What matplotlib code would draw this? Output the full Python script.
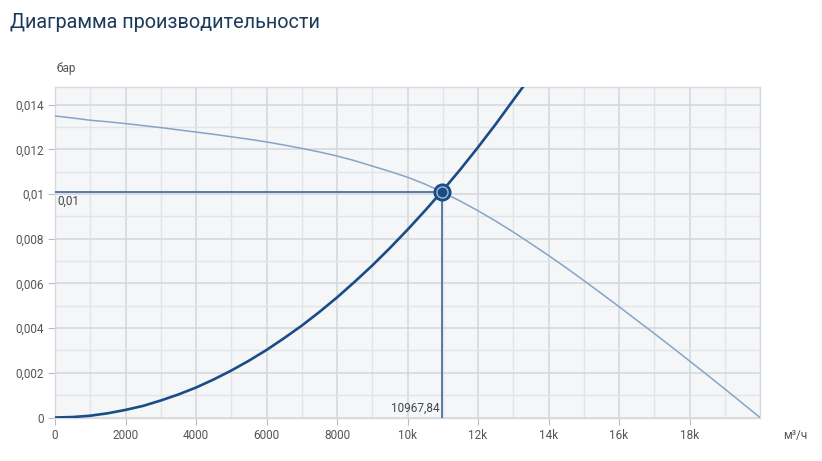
import matplotlib
matplotlib.use('Agg')
import matplotlib.pyplot as plt
from matplotlib.ticker import MultipleLocator

plt.rcParams['font.family'] = ['Roboto', 'DejaVu Sans']

# system curve
sys_q = [0, 500, 1000, 1500, 2000, 2500, 3000, 3500, 4000, 4500, 5000, 5500, 6000, 6500, 7000,
         7500, 8000, 8500, 9000, 9500, 10000, 10500, 10967.84, 11500, 12000, 12500, 13000, 13280]
sys_h = [0, 0.00002, 0.00008, 0.00019, 0.00034, 0.00052, 0.00076, 0.00103, 0.00134, 0.0017,
         0.0021, 0.00254, 0.00302, 0.00355, 0.00411, 0.00472, 0.00537, 0.00607, 0.0068, 0.00758,
         0.0084, 0.00926, 0.0101, 0.0111, 0.01209, 0.01312, 0.0142, 0.0148]

# pump curve
pump_q = [0, 500, 1000, 1500, 2000, 2500, 3000, 3500, 4000, 4500, 5000, 5500, 6000, 6500, 7000,
          7500, 8000, 8500, 9000, 9500, 10000, 10500, 10967.84, 11500, 12000, 12500, 13000, 13500,
          14000, 14500, 15000, 15500, 16000, 16500, 17000, 17500, 18000, 18500, 19000, 19500, 20000]
pump_h = [0.01349, 0.0134, 0.0133, 0.01323, 0.01315, 0.01306, 0.01297, 0.01287, 0.01277, 0.01267,
          0.01256, 0.01245, 0.01233, 0.01219, 0.01204, 0.01188, 0.0117, 0.01149, 0.01125, 0.01101,
          0.01075, 0.01044, 0.0101, 0.00968, 0.00925, 0.00879, 0.0083, 0.00778, 0.00725, 0.0067,
          0.00613, 0.00555, 0.00496, 0.00436, 0.00376, 0.00315, 0.00253, 0.00191, 0.00128,
          0.00064, 0.0]

op_q = 10967.84
op_h = 0.0101

xticks = [0, 2000, 4000, 6000, 8000, 10000, 12000, 14000, 16000, 18000]
xlabels = ['0', '2000', '4000', '6000', '8000', '10k', '12k', '14k', '16k', '18k']
yticks = [0, 0.002, 0.004, 0.006, 0.008, 0.01, 0.012, 0.014]
ylabels = ['0', '0,002', '0,004', '0,006', '0,008', '0,01', '0,012', '0,014']

fig = plt.figure(figsize=(8.22, 4.61), dpi=100)
ax = fig.add_axes([55/822, 43.5/461, 705/822, 330.8/461])
ax.set_facecolor('#f4f6f8')

ax.set_xlim(0, 20000)
ax.set_ylim(0, 0.0148)
ax.set_xticks(xticks)
ax.set_xticklabels(xlabels)
ax.set_yticks(yticks)
ax.set_yticklabels(ylabels)
ax.xaxis.set_minor_locator(MultipleLocator(1000))
ax.yaxis.set_minor_locator(MultipleLocator(0.001))
ax.grid(which='major', color='#d3d7dc', lw=1.1)
ax.grid(which='minor', color='#e1e4e8', lw=1.0)
ax.set_axisbelow(True)
ax.tick_params(which='major', length=5, color='#b8bcc2', labelcolor='#555555', labelsize=8.5, pad=3)
ax.tick_params(which='minor', length=0)
for s in ax.spines.values():
    s.set_color('#d6d9dd')
    s.set_linewidth(1)

ax.plot(pump_q, pump_h, color='#86a4c8', lw=1.1, zorder=3)
ax.plot(sys_q, sys_h, color='#1a4c85', lw=1.9, zorder=4)

ax.plot([0, op_q], [op_h, op_h], color='#3b679b', lw=1.2, zorder=3)
ax.plot([op_q, op_q], [0, op_h], color='#3b679b', lw=1.2, zorder=3)
ax.plot([op_q], [op_h], 'o', ms=12, mfc='#1a4c85', mec='#1a4c85', zorder=5)
ax.plot([op_q], [op_h], 'o', ms=8, mfc='#1a4c85', mec='#9fb9d6', mew=1, zorder=6)

ax.text(80, op_h - 0.00012, '0,01', ha='left', va='top', fontsize=8.5, color='#444444', zorder=6)
ax.text(op_q - 60, 0.0001, '10967,84', ha='right', va='bottom', fontsize=8.5, color='#444444', zorder=6)

fig.text(10/822, 1 - 22/461, 'Диаграмма производительности', ha='left', va='center',
         fontsize=14.3, color='#1c3b5a')
fig.text(66/822, 1 - 68/461, 'бар', ha='center', va='center', fontsize=8.5, color='#555555')
fig.text(795/822, 1 - 435/461, 'м³/ч', ha='center', va='center', fontsize=8.5, color='#555555')

fig.savefig('out.png', dpi=100)
